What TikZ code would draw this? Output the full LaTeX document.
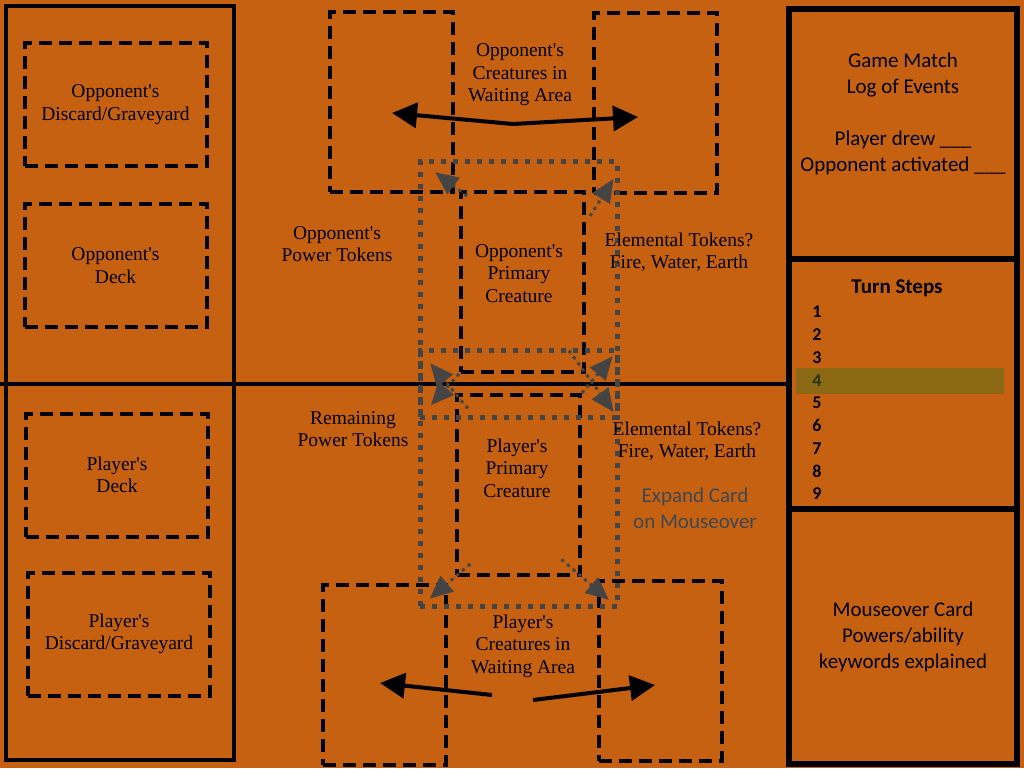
\documentclass[tikz,border=0pt]{standalone}
\usepackage{fontspec}
\setmainfont{Liberation Serif}
\newfontfamily\calibri{Carlito}
\usetikzlibrary{arrows.meta}
\definecolor{tablebg}{RGB}{197,97,16}
\definecolor{dotgray}{RGB}{68,68,68}
\definecolor{stepolive}{RGB}{139,105,20}
\definecolor{stepgreen}{RGB}{38,52,10}
\definecolor{hintgray}{RGB}{62,72,82}
\newcommand{\apos}{\textquotesingle}

\begin{document}
\begin{tikzpicture}[x=1pt, y=-1pt,
  panel/.style={draw, line width=6.5pt, minimum width=228pt, inner sep=0pt},
  cardbox/.style={draw, line width=4pt, dash pattern=on 13pt off 7pt, inner sep=0pt,
    minimum width=123pt, minimum height=180pt},
  pilebox/.style={cardbox, minimum width=182pt, minimum height=123pt},
  zoombox/.style={draw=dotgray, line width=5pt, dash pattern=on 5pt off 7pt,
    minimum width=197pt, minimum height=256pt, inner sep=0pt},
  zoomarrow/.style={draw=dotgray, fill=dotgray, line width=3pt, dash pattern=on 3pt off 4.5pt,
    -{Triangle[length=23pt, width=20pt]}},
  bigarrow/.style={line width=4pt, -{Triangle[length=25pt, width=25pt]}},
  tabletext/.style={align=center, font=\fontsize{19.5}{22.5}\selectfont},
  paneltext/.style={align=center, font=\calibri\fontsize{21}{26}\selectfont}]

  \fill[tablebg] (0,0) rectangle (1024,768);
  \useasboundingbox (0,0) rectangle (1024,768);

  % side panels
  \node[panel, line width=4pt, minimum height=754pt] (pile-panel) at (119.5,383) {};
  \node[panel, minimum height=250pt] (log-panel) at (903,134) {};
  \node[panel, minimum height=250pt] (steps-panel) at (903,384) {};
  \node[panel, minimum height=255pt, paneltext] (info-panel) at (903,636.5)
    {Mouseover Card\\Powers/ability\\keywords explained};
  \draw[line width=4pt] (steps-panel.west -| 0,0) -- (steps-panel.west);

  % deck and graveyard piles
  \node[pilebox, tabletext] (opp-discard) at (115.5,104.5) {Opponent\apos s\\Discard/Graveyard};
  \node[pilebox, tabletext] (opp-deck) at (115.5,265.5) {Opponent\apos s\\Deck};
  \node[pilebox, tabletext] (ply-deck) at (117,475) {Player\apos s\\Deck};
  \node[pilebox, tabletext] (ply-discard) at (119,634) {Player\apos s\\Discard/Graveyard};

  % creature cards
  \node[cardbox] (opp-wait-l) at (391.5,102) {};
  \node[cardbox] (opp-wait-r) at (655.5,103) {};
  \node[cardbox] (opp-card) at (522.5,282) {};
  \node[cardbox] (ply-card) at (518.5,485) {};
  \node[cardbox] (ply-wait-l) at (384,675) {};
  \node[cardbox] (ply-wait-r) at (660,670.5) {};

  % expanded card outlines
  \node[zoombox] (opp-zoom) at (518.5,289.5) {};
  \node[zoombox] (ply-zoom) at (518.5,478.5) {};

  \draw[zoomarrow, shorten <=-10pt, shorten >=22pt] (opp-card.north west) -- (opp-zoom.north west);
  \draw[zoomarrow] ([shift={(4pt,-26pt)}]opp-card.north east) -- ([shift={(-6pt,-20pt)}]opp-zoom.north east);
  \draw[zoomarrow, shorten >=20pt] (opp-card.south west) -- (opp-zoom.south west);
  \draw[zoomarrow, shorten <=-29pt, shorten >=10pt] (opp-card.south east) -- (opp-zoom.south east);
  \draw[zoomarrow, shorten <=-20pt, shorten >=20pt] (ply-card.north west) -- (ply-zoom.north west);
  \draw[zoomarrow, shorten >=11pt] (ply-card.north east) -- (ply-zoom.north east);
  \draw[zoomarrow, shorten <=-20pt, shorten >=16pt] (ply-card.south west) -- (ply-zoom.south west);
  \draw[zoomarrow, shorten <=-27pt, shorten >=14pt] (ply-card.south east) -- (ply-zoom.south east);

  % waiting area arrows
  \coordinate (opp-split) at (513,124);
  \coordinate (opp-tip-l) at (392,113);
  \coordinate (opp-tip-r) at (638,117);
  \coordinate (ply-from-l) at (492,695);
  \coordinate (ply-from-r) at (533,700);
  \coordinate (ply-tip-l) at (380,683);
  \coordinate (ply-tip-r) at (655,685);
  \draw[bigarrow] (opp-split) -- (opp-tip-l);
  \draw[bigarrow] (opp-split) -- (opp-tip-r);
  \draw[bigarrow] (ply-from-l) -- (ply-tip-l);
  \draw[bigarrow] (ply-from-r) -- (ply-tip-r);

  % table labels
  \node[tabletext] (opp-wait-text) at (520,75) {Opponent\apos s\\Creatures in\\Waiting Area};
  \node[tabletext] (opp-card-text) at (519,273.5) {Opponent\apos s\\Primary\\Creature};
  \node[tabletext] (opp-power) at (337,244) {Opponent\apos s\\Power Tokens};
  \node[tabletext] (opp-elem) at (679,252) {Elemental Tokens?\\Fire, Water, Earth};
  \node[tabletext] (ply-power) at (353,429) {Remaining\\Power Tokens};
  \node[tabletext] (ply-elem) at (687,441) {Elemental Tokens?\\Fire, Water, Earth};
  \node[tabletext] (ply-card-text) at (517,468) {Player\apos s\\Primary\\Creature};
  \node[tabletext] (ply-wait-text) at (523,646) {Player\apos s\\Creatures in\\Waiting Area};
  \node[paneltext, text=hintgray] (expand-hint) at (695,508) {Expand Card\\on Mouseover};

  % log and turn steps
  \node[paneltext] (log-text) at (903,114)
    {Game Match\\Log of Events\\[26pt]Player drew \_\_\_\\Opponent activated \_\_\_};
  \node[font=\calibri\bfseries\fontsize{21}{26}\selectfont] (steps-title) at (897,288) {Turn Steps};
  \node[fill=stepolive, minimum width=208pt, minimum height=26pt, inner sep=0pt] (step-hl) at (900,381) {};
  \foreach \n/\c in {1/black, 2/black, 3/black, 4/stepgreen, 5/black, 6/black, 7/black, 8/black, 9/black}{
    \node[text=\c, font=\calibri\bfseries\fontsize{18}{20}\selectfont] (step-\n) at (817,{289.25+22.75*\n}) {\n};
  }
\end{tikzpicture}
\end{document}
